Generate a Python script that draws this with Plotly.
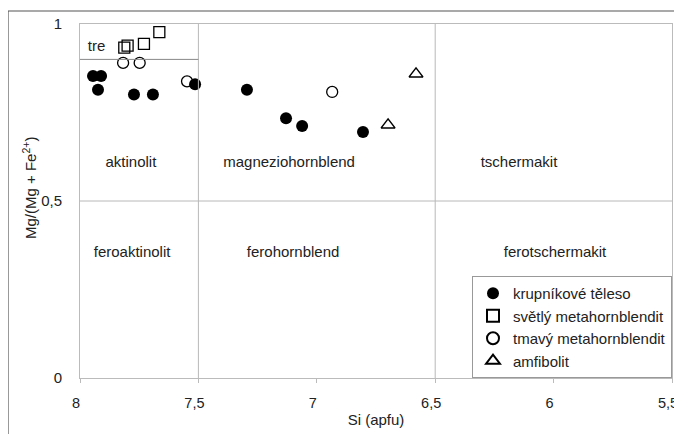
import plotly.graph_objects as go

# Data
krup_x = [7.945, 7.911, 7.924, 7.772, 7.692, 7.514, 7.295, 7.13, 7.062, 6.805]
krup_y = [0.853, 0.853, 0.814, 0.801, 0.801, 0.83, 0.814, 0.734, 0.712, 0.695]
svet_x = [7.813, 7.799, 7.730, 7.665]
svet_y = [0.933, 0.939, 0.944, 0.977]
tmav_x = [7.818, 7.748, 7.548, 6.935]
tmav_y = [0.890, 0.890, 0.838, 0.808]
amf_x = [6.699, 6.581]
amf_y = [0.715, 0.859]

field_names = ["tre", "aktinolit", "magneziohornblend", "tschermakit",
               "feroaktinolit", "ferohornblend", "ferotschermakit"]
field_x = [7.93, 7.785, 7.117, 6.146, 7.78, 7.10, 5.994]
field_y = [0.935, 0.607, 0.607, 0.607, 0.353, 0.353, 0.353]

x_ticks = [8, 7.5, 7, 6.5, 6, 5.5]
x_ticktext = ["8", "7,5", "7", "6,5", "6", "5,5"]
y_ticks = [0, 0.5, 1]
y_ticktext = ["0", "0,5", "1"]

FONT = "Liberation Sans Narrow, Liberation Sans, Arial, sans-serif"

fig = go.Figure()
fig.add_trace(go.Scatter(x=krup_x, y=krup_y, mode="markers", name="krupníkové těleso",
                         marker=dict(symbol="circle", size=12, color="black")))
fig.add_trace(go.Scatter(x=svet_x, y=svet_y, mode="markers", name="světlý metahornblendit",
                         marker=dict(symbol="square-open", size=11, color="black",
                                     line=dict(width=1.3, color="black"))))
fig.add_trace(go.Scatter(x=tmav_x, y=tmav_y, mode="markers", name="tmavý metahornblendit",
                         marker=dict(symbol="circle-open", size=11, color="black",
                                     line=dict(width=1.3, color="black"))))
fig.add_trace(go.Scatter(x=amf_x, y=amf_y, mode="markers", name="amfibolit",
                         marker=dict(symbol="triangle-up-open", size=12, color="black",
                                     line=dict(width=1.5, color="black"))))

fig.add_trace(go.Scatter(x=field_x, y=field_y, mode="text", text=field_names,
                         textfont=dict(size=15, color="#222", family=FONT),
                         showlegend=False, hoverinfo="skip"))

# page body adds an 8px offset; plot area 592x354
grid = "#b8b8b8"
fx = -72 / 592.0
fy = 1 + 13 / 354.0
shapes = [
    dict(type="line", xref="x", yref="y", x0=7.5, x1=7.5, y0=0, y1=1, line=dict(color=grid, width=1)),
    dict(type="line", xref="x", yref="y", x0=6.5, x1=6.5, y0=0, y1=1, line=dict(color=grid, width=1)),
    dict(type="line", xref="x", yref="y", x0=8, x1=5.5, y0=0.5, y1=0.5, line=dict(color=grid, width=1)),
    dict(type="line", xref="x", yref="y", x0=8, x1=7.5, y0=0.9, y1=0.9, line=dict(color="#888", width=1)),
    # outer frame
    dict(type="line", xref="paper", yref="paper", x0=fx, x1=1.05, y0=fy, y1=fy,
         line=dict(color="#555", width=1.2)),
    dict(type="line", xref="paper", yref="paper", x0=fx, x1=fx, y0=fy, y1=-0.2,
         line=dict(color="#555", width=1.2)),
]

fig.update_layout(
    width=686, height=426,
    margin=dict(l=72, r=22, t=16, b=56, autoexpand=False),
    paper_bgcolor="white", plot_bgcolor="white",
    font=dict(family=FONT, size=14, color="#222"),
    shapes=shapes,
    annotations=[dict(text="Mg/(Mg + Fe<sup>2+</sup>)", xref="paper", yref="paper",
                      x=-50 / 592.0, y=190 / 354.0, textangle=-90, showarrow=False,
                      xanchor="center", yanchor="middle",
                      font=dict(size=15, family=FONT, color="#222"))],
    showlegend=True,
    legend=dict(x=1, y=0, xanchor="right", yanchor="bottom",
                bordercolor="#999", borderwidth=1, bgcolor="white",
                font=dict(size=15, family=FONT), itemsizing="constant",
                tracegroupgap=0),
    xaxis=dict(range=[8, 5.5], tickvals=x_ticks, ticktext=x_ticktext, automargin=False,
               showgrid=False, zeroline=False, showline=True, linecolor="#bbb",
               mirror=True, ticks="outside", ticklen=4, tickcolor="#bbb",
               ticklabelstandoff=8, ticklabelshift=4, ticklabeloverflow="allow",
               tickfont=dict(size=14.5),
               title=dict(text="Si (apfu)", standoff=4, font=dict(size=15))),
    yaxis=dict(range=[0, 1], tickvals=y_ticks, ticktext=y_ticktext, automargin=False,
               showgrid=False, zeroline=False, showline=True, linecolor="#bbb",
               mirror=True, ticks="", ticklabelstandoff=14,
               tickfont=dict(size=15)),
)

fig.write_html("out.html")
